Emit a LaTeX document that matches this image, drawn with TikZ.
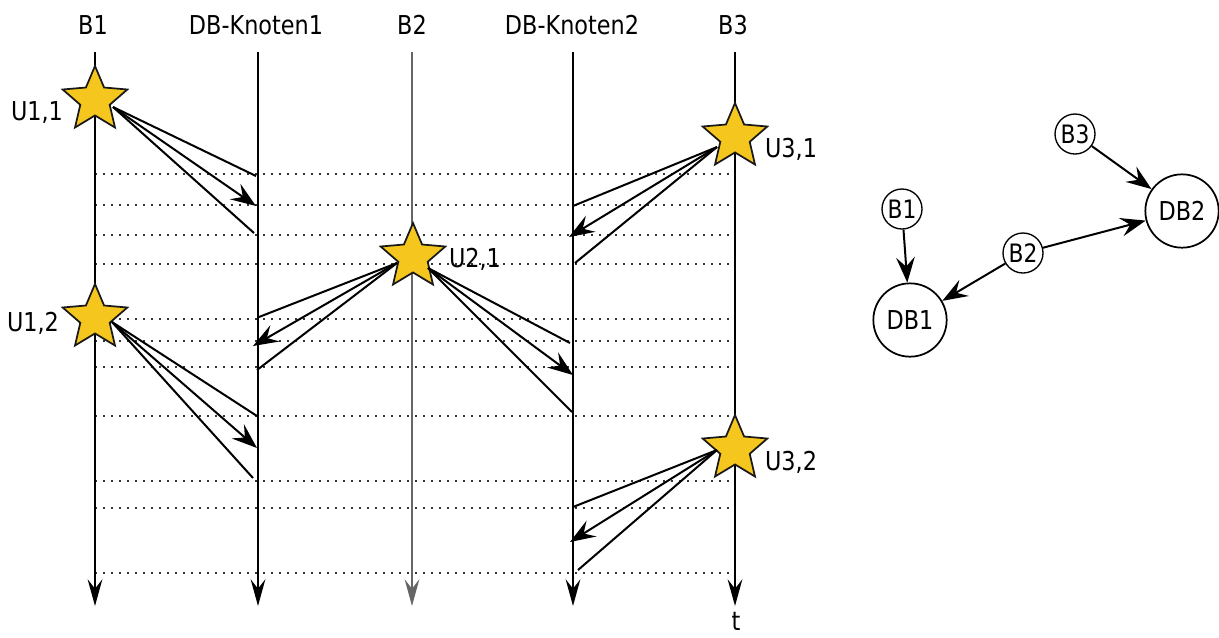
\documentclass[tikz,border=0pt]{standalone}
\usepackage{fontspec}
\setmainfont{DejaVu Sans}[FakeStretch=0.86]
\usetikzlibrary{shapes.geometric,arrows.meta}
\definecolor{starfill}{RGB}{245,198,30}
\begin{document}
\begin{tikzpicture}[x=0.75pt,y=-0.75pt,
  every node/.style={font=\fontsize{19.5}{22}\selectfont},
  lane/.style={line width=1.5pt,-{Stealth[length=20pt,width=11pt,inset=7pt]}},
  msg/.style={line width=1.5pt},
  msgarrow/.style={line width=1.5pt,-{Stealth[length=19pt,width=14pt,inset=7pt]}},
  tick/.style={line width=1.2pt,dash pattern=on 1.6pt off 4.4pt,draw=black!80},
  event/.style={star,star points=5,star point ratio=2.2,minimum size=51pt,
    inner sep=0pt,fill=starfill,draw=black!90,line width=1.3pt},
  peer/.style={circle,draw,line width=1pt,minimum size=30pt,inner sep=0pt,
    font=\fontsize{19}{21}\selectfont},
  dbnode/.style={circle,draw,line width=1.3pt,minimum size=55pt,inner sep=0pt,
    font=\fontsize{19.5}{22}\selectfont},
  link/.style={line width=1.5pt,-{Stealth[length=19pt,width=14pt,inset=7pt]}}
]
\useasboundingbox (0,0) rectangle (1219,637);

% column headers
\node (hB1) at (93,25) {B1};
\node (hK1) at (256,25) {DB-Knoten1};
\node (hB2) at (412,25) {B2};
\node (hK2) at (572,25) {DB-Knoten2};
\node (hB3) at (733,25) {B3};
\node (time) at (736,621) {t};

% lane ends
\foreach \n/\x in {B1/95,K1/258,B2/412,K2/573,B3/735}{
  \coordinate (\n top) at (\x,52);
  \coordinate (\n bot) at (\x,606);
}

% dotted time marks
\foreach \y in {174,205,235,264,319,341,367,416,481,508,573}{
  \draw[tick] (B1top |- 0,\y) -- (B3top |- 0,\y);
}

% lanes
\draw[lane] (B1top) -- (B1bot);
\draw[lane] (K1top) -- (K1bot);
\draw[lane,draw=black!60] (B2top) -- (B2bot);
\draw[lane] (K2top) -- (K2bot);
\draw[lane] (B3top) -- (B3bot);

% update events
\node[event] (u11) at (95,100) {};
\node[event] (u31) at (735,137) {};
\node[event] (u21) at (413,257) {};
\node[event] (u12) at (95,318) {};
\node[event] (u32) at (735,449) {};

\node (l11) at (37,113) {U1,1};
\node (l31) at (791,149) {U3,1};
\node (l21) at (475,259) {U2,1};
\node (l12) at (33,323) {U1,2};
\node (l32) at (791,462) {U3,2};

% propagation fans
\coordinate (o11) at (113,107);
\coordinate (a1) at (256,176);
\coordinate (b1) at (256,206);
\coordinate (c1) at (254,233);
\draw[msg] (o11) -- (a1);
\draw[msgarrow] (o11) -- (b1);
\draw[msg] (o11) -- (c1);

\coordinate (o31) at (717,147);
\coordinate (a2) at (573,206);
\coordinate (b2) at (569,237);
\coordinate (c2) at (575,263);
\draw[msg] (o31) -- (a2);
\draw[msgarrow] (o31) -- (b2);
\draw[msg] (o31) -- (c2);

\coordinate (o21l) at (397,263);
\coordinate (a3) at (259,317);
\coordinate (b3) at (253,346);
\coordinate (c3) at (257,370);
\draw[msg] (o21l) -- (a3);
\draw[msgarrow] (o21l) -- (b3);
\draw[msg] (o21l) -- (c3);

\coordinate (o21r) at (428,268);
\coordinate (a4) at (570,343);
\coordinate (b4) at (573,375);
\coordinate (c4) at (572,412);
\draw[msg] (o21r) -- (a4);
\draw[msgarrow] (o21r) -- (b4);
\draw[msg] (o21r) -- (c4);

\coordinate (o12) at (112,322);
\coordinate (a5) at (257,416);
\coordinate (b5) at (257,448);
\coordinate (c5) at (253,478);
\draw[msg] (o12) -- (a5);
\draw[msgarrow] (o12) -- (b5);
\draw[msg] (o12) -- (c5);

\coordinate (o32) at (717,450);
\coordinate (a6) at (573,507);
\coordinate (b6) at (570,542);
\coordinate (c6) at (578,570);
\draw[msg] (o32) -- (a6);
\draw[msgarrow] (o32) -- (b6);
\draw[msg] (o32) -- (c6);

% topology
\node[peer] (gB3) at (1075,134) {B3};
\node[peer] (gB1) at (902,209) {B1};
\node[peer] (gB2) at (1023,253) {B2};
\node[dbnode] (gDB1) at (910,320) {DB1};
\node[dbnode] (gDB2) at (1182,211) {DB2};
\draw[link] (gB1) -- (gDB1);
\draw[link] (gB3) -- (gDB2);
\draw[link] (gB2) -- (gDB2);
\draw[link] (gB2) -- (gDB1);
\end{tikzpicture}
\end{document}
